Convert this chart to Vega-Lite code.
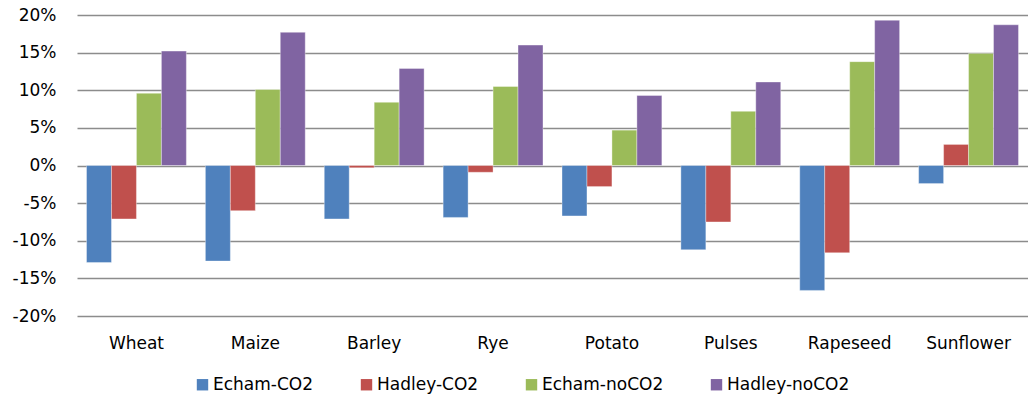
{
  "$schema": "https://vega.github.io/schema/vega-lite/v6.json",
  "width": 951,
  "height": 301,
  "autosize": "none",
  "padding": {"left": 77, "top": 15, "right": 0, "bottom": 83},
  "background": "white",
  "config": {
    "view": {"stroke": null},
    "font": "DejaVu Sans"
  },
  "data": {
    "values": [
      {"crop": "Wheat", "scenario": "Echam-CO2", "value": -12.9},
      {"crop": "Wheat", "scenario": "Hadley-CO2", "value": -7.1},
      {"crop": "Wheat", "scenario": "Echam-noCO2", "value": 9.6},
      {"crop": "Wheat", "scenario": "Hadley-noCO2", "value": 15.2},
      {"crop": "Maize", "scenario": "Echam-CO2", "value": -12.7},
      {"crop": "Maize", "scenario": "Hadley-CO2", "value": -6.0},
      {"crop": "Maize", "scenario": "Echam-noCO2", "value": 10.1},
      {"crop": "Maize", "scenario": "Hadley-noCO2", "value": 17.7},
      {"crop": "Barley", "scenario": "Echam-CO2", "value": -7.1},
      {"crop": "Barley", "scenario": "Hadley-CO2", "value": -0.3},
      {"crop": "Barley", "scenario": "Echam-noCO2", "value": 8.4},
      {"crop": "Barley", "scenario": "Hadley-noCO2", "value": 12.9},
      {"crop": "Rye", "scenario": "Echam-CO2", "value": -6.9},
      {"crop": "Rye", "scenario": "Hadley-CO2", "value": -0.9},
      {"crop": "Rye", "scenario": "Echam-noCO2", "value": 10.5},
      {"crop": "Rye", "scenario": "Hadley-noCO2", "value": 16.0},
      {"crop": "Potato", "scenario": "Echam-CO2", "value": -6.7},
      {"crop": "Potato", "scenario": "Hadley-CO2", "value": -2.8},
      {"crop": "Potato", "scenario": "Echam-noCO2", "value": 4.7},
      {"crop": "Potato", "scenario": "Hadley-noCO2", "value": 9.3},
      {"crop": "Pulses", "scenario": "Echam-CO2", "value": -11.2},
      {"crop": "Pulses", "scenario": "Hadley-CO2", "value": -7.5},
      {"crop": "Pulses", "scenario": "Echam-noCO2", "value": 7.2},
      {"crop": "Pulses", "scenario": "Hadley-noCO2", "value": 11.1},
      {"crop": "Rapeseed", "scenario": "Echam-CO2", "value": -16.6},
      {"crop": "Rapeseed", "scenario": "Hadley-CO2", "value": -11.6},
      {"crop": "Rapeseed", "scenario": "Echam-noCO2", "value": 13.8},
      {"crop": "Rapeseed", "scenario": "Hadley-noCO2", "value": 19.3},
      {"crop": "Sunflower", "scenario": "Echam-CO2", "value": -2.4},
      {"crop": "Sunflower", "scenario": "Hadley-CO2", "value": 2.8},
      {"crop": "Sunflower", "scenario": "Echam-noCO2", "value": 14.9},
      {"crop": "Sunflower", "scenario": "Hadley-noCO2", "value": 18.7}
    ]
  },
  "mark": {"type": "bar", "stroke": "white", "strokeWidth": 0.6, "strokeOpacity": 0.6},
  "encoding": {
    "x": {
      "field": "crop",
      "type": "nominal",
      "sort": ["Wheat", "Maize", "Barley", "Rye", "Potato", "Pulses", "Rapeseed", "Sunflower"],
      "scale": {"paddingInner": 0.16, "paddingOuter": 0.08},
      "axis": {
        "title": null,
        "labelAngle": 0,
        "domain": false,
        "ticks": false,
        "labelPadding": 19,
        "labelFontSize": 17,
        "labelColor": "#000000",
        "labelFont": "DejaVu Sans"
      }
    },
    "xOffset": {
      "field": "scenario",
      "type": "nominal",
      "sort": ["Echam-CO2", "Hadley-CO2", "Echam-noCO2", "Hadley-noCO2"]
    },
    "y": {
      "field": "value",
      "type": "quantitative",
      "scale": {"domain": [-20, 20], "nice": false},
      "axis": {
        "title": null,
        "values": [-20, -15, -10, -5, 0, 5, 10, 15, 20],
        "labelExpr": "datum.value + '%'",
        "domain": false,
        "ticks": false,
        "labelPadding": 21,
        "labelFontSize": 17,
        "labelColor": "#000000",
        "labelFont": "DejaVu Sans",
        "gridColor": "#8c8c8c",
        "gridWidth": 1.5
      }
    },
    "color": {
      "field": "scenario",
      "type": "nominal",
      "sort": ["Echam-CO2", "Hadley-CO2", "Echam-noCO2", "Hadley-noCO2"],
      "scale": {
        "domain": ["Echam-CO2", "Hadley-CO2", "Echam-noCO2", "Hadley-noCO2"],
        "range": ["#4F81BD", "#C0504D", "#9BBB59", "#8064A2"]
      },
      "legend": {
        "title": null,
        "orient": "none",
        "legendX": 117,
        "legendY": 361,
        "direction": "horizontal",
        "symbolType": "square",
        "symbolSize": 130,
        "symbolStrokeWidth": 0,
        "labelFontSize": 17,
        "labelFont": "DejaVu Sans",
        "labelColor": "#000000",
        "labelOffset": 2,
        "columnPadding": 44
      }
    }
  }
}
